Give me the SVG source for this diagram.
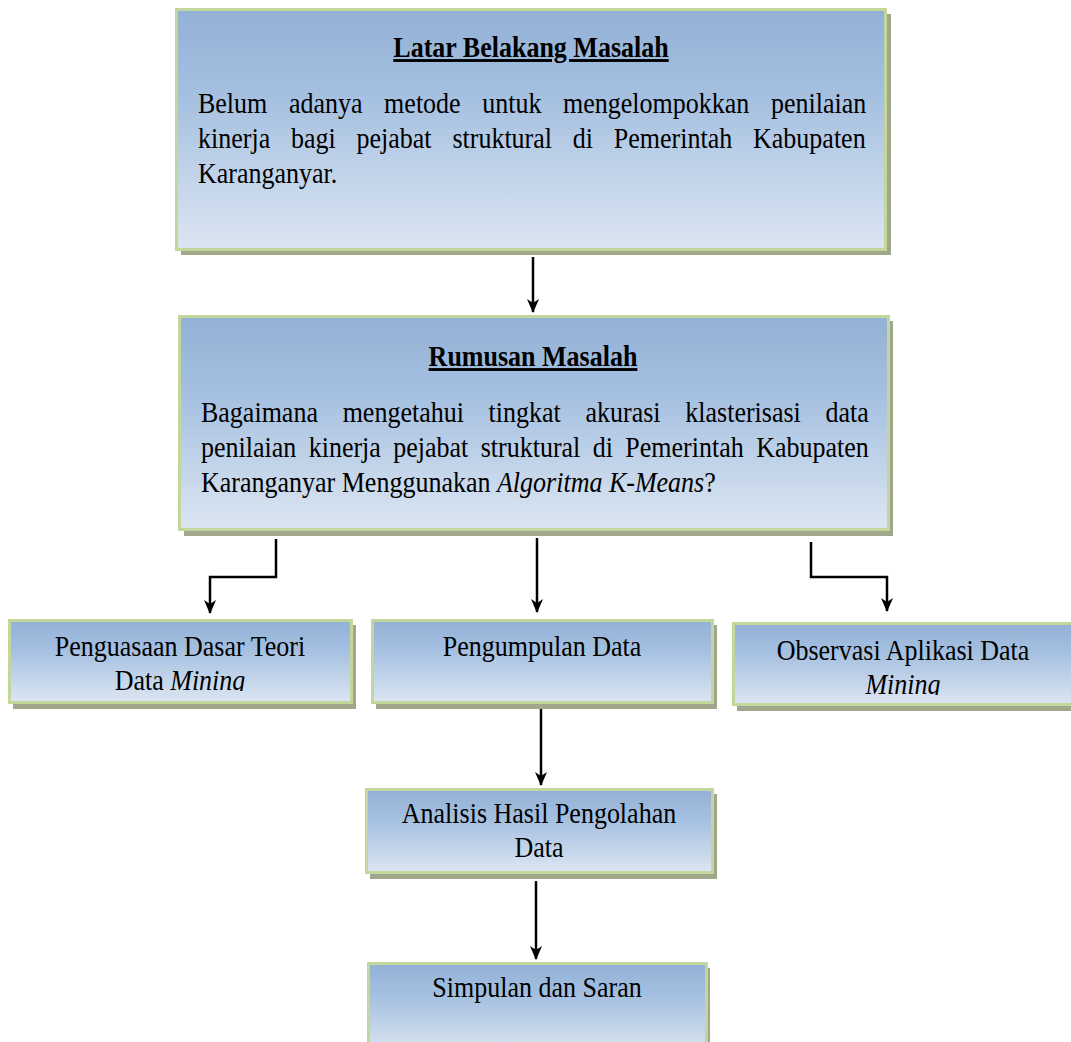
<svg xmlns="http://www.w3.org/2000/svg" width="1071" height="1042" viewBox="0 0 1071 1042">
<defs>
<linearGradient id="g" x1="0" y1="0" x2="0" y2="1">
<stop offset="0" stop-color="#93b1d6"/>
<stop offset="0.35" stop-color="#a4bfe0"/>
<stop offset="1" stop-color="#dce6f2"/>
</linearGradient>
<marker id="ah" viewBox="0 0 14 12" refX="13" refY="6" markerWidth="14" markerHeight="12" markerUnits="userSpaceOnUse" orient="auto">
<path d="M0,0 L14,6 L0,12 L4,6 Z" fill="#000"/>
</marker>
<clipPath id="clipA"><rect x="8" y="619" width="344" height="72"/></clipPath>
<clipPath id="clipC"><rect x="732" y="622" width="340" height="73"/></clipPath>
</defs>
<style>
.sh{fill:#a0a78b}
.bx{fill:url(#g);stroke:#c3d69b;stroke-width:3}
.t{font-family:"Liberation Serif","Times New Roman",serif;font-size:26px;fill:#000}
.c{text-anchor:middle}
.h{font-weight:bold;text-decoration:underline}
.i{font-style:italic}
.cn{stroke:#000;stroke-width:2.5;fill:none}
</style>
<rect width="1071" height="1042" fill="#fff"/>

<g id="connectors">
<path class="cn" d="M533,257 V312" marker-end="url(#ah)"/>
<path class="cn" d="M276,539 V577 H210 V613" marker-end="url(#ah)"/>
<path class="cn" d="M537,538 V612" marker-end="url(#ah)"/>
<path class="cn" d="M811,542 V577 H887 V611" marker-end="url(#ah)"/>
<path class="cn" d="M541,708 V785" marker-end="url(#ah)"/>
<path class="cn" d="M536,881 V959" marker-end="url(#ah)"/>
</g>

<g id="latar">
<rect class="sh" x="181" y="14" width="710" height="241"/>
<rect class="bx" x="176.5" y="9.5" width="709" height="240"/>
<text class="t c h" x="531" y="57" transform="matrix(1 0 0 1.1 0 -5.7)">Latar Belakang Masalah</text>
<text class="t" x="198" y="113" word-spacing="15.1" transform="matrix(1 0 0 1.1 0 -11.3)">Belum adanya metode untuk mengelompokkan penilaian</text>
<text class="t" x="198" y="148" word-spacing="14.3" transform="matrix(1 0 0 1.1 0 -14.8)">kinerja bagi pejabat struktural di Pemerintah Kabupaten</text>
<text class="t" x="198" y="183" transform="matrix(1 0 0 1.1 0 -18.3)">Karanganyar.</text>
</g>

<g id="rumusan">
<rect class="sh" x="184" y="321" width="709" height="215"/>
<rect class="bx" x="179.5" y="316.5" width="709" height="213"/>
<text class="t c h" x="533" y="366" transform="matrix(1 0 0 1.1 0 -36.6)">Rumusan Masalah</text>
<text class="t" x="201" y="422" word-spacing="18.2" transform="matrix(1 0 0 1.1 0 -42.2)">Bagaimana mengetahui tingkat akurasi klasterisasi data</text>
<text class="t" x="201" y="457" word-spacing="5.9" transform="matrix(1 0 0 1.1 0 -45.7)">penilaian kinerja pejabat struktural di Pemerintah Kabupaten</text>
<text class="t" x="201" y="492" transform="matrix(1 0 0 1.1 0 -49.2)">Karanganyar Menggunakan <tspan class="i">Algoritma K-Means</tspan>?</text>
</g>

<g id="penguasaan">
<rect class="sh" x="13" y="625" width="343" height="84"/>
<rect class="bx" x="9.5" y="620.5" width="342" height="82"/>
<g clip-path="url(#clipA)">
<text class="t c" x="180" y="656" transform="matrix(1 0 0 1.1 0 -65.6)">Penguasaan Dasar Teori</text>
<text class="t c" x="180" y="690" transform="matrix(1 0 0 1.1 0 -69)">Data <tspan class="i">Mining</tspan></text>
</g>
</g>

<g id="pengumpulan">
<rect class="sh" x="376" y="625" width="341" height="84"/>
<rect class="bx" x="372.5" y="620.5" width="340" height="82"/>
<text class="t c" x="542" y="656" transform="matrix(1 0 0 1.1 0 -65.6)">Pengumpulan Data</text>
</g>

<g id="observasi">
<rect class="sh" x="737" y="628" width="340" height="83"/>
<rect class="bx" x="733.5" y="623.5" width="345" height="81"/>
<g clip-path="url(#clipC)">
<text class="t c" x="903" y="660" transform="matrix(1 0 0 1.1 0 -66)">Observasi Aplikasi Data</text>
<text class="t c i" x="903" y="694" transform="matrix(1 0 0 1.1 0 -69.4)">Mining</text>
</g>
</g>

<g id="analisis">
<rect class="sh" x="370" y="794" width="347" height="85"/>
<rect class="bx" x="366.5" y="789.5" width="346" height="83"/>
<text class="t c" x="539" y="823" transform="matrix(1 0 0 1.1 0 -82.3)">Analisis Hasil Pengolahan</text>
<text class="t c" x="539" y="857" transform="matrix(1 0 0 1.1 0 -85.7)">Data</text>
</g>

<g id="simpulan">
<rect class="sh" x="372" y="968" width="338" height="90"/>
<rect class="bx" x="368.5" y="963.5" width="338" height="90"/>
<text class="t c" x="537" y="997" transform="matrix(1 0 0 1.1 0 -99.7)">Simpulan dan Saran</text>
</g>
</svg>
